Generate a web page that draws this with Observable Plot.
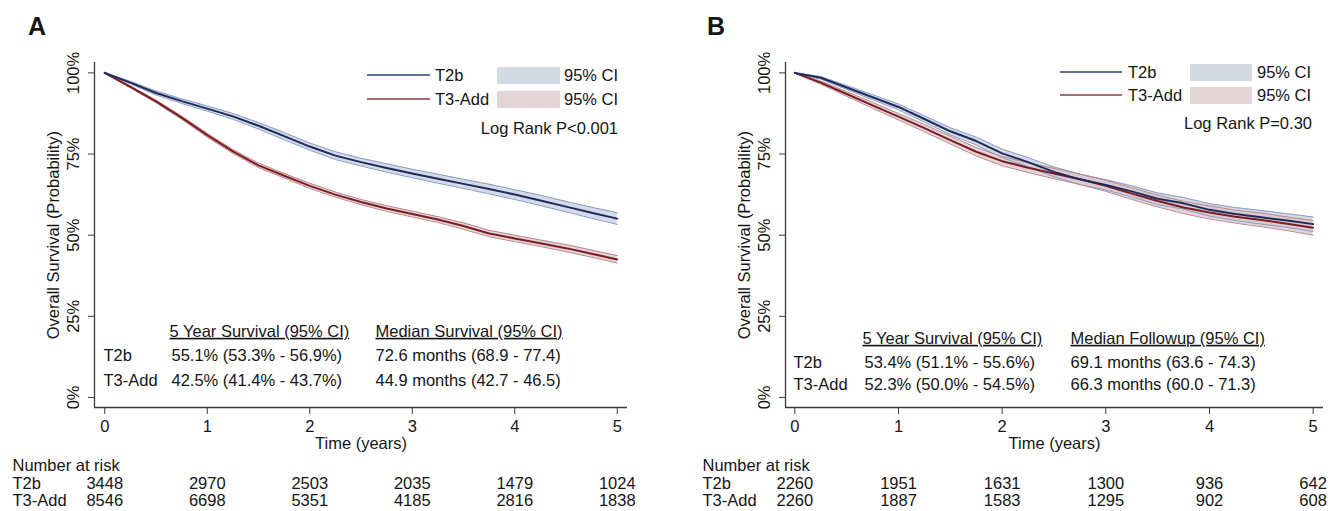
<!DOCTYPE html>
<html><head><meta charset="utf-8">
<script src="https://cdn.jsdelivr.net/npm/d3@7"></script>
<script src="https://cdn.jsdelivr.net/npm/@observablehq/plot@0.6"></script>
<style>
html,body{margin:0;padding:0;background:#fff;}
#fig{position:relative;width:1330px;height:511px;overflow:hidden;font-family:"Liberation Sans",Arial,sans-serif;color:#151515;}
.panel{position:absolute;top:0;}
.abs{position:absolute;white-space:nowrap;font-size:16.5px;line-height:20px;}
.sw{position:absolute;}
.letter{position:absolute;font-weight:bold;font-size:25px;line-height:25px;}
</style></head><body><div id="fig"></div>
<script>
// ---------- data ----------
const years = [0, 0.25, 0.5, 0.75, 1, 1.25, 1.5, 1.75, 2, 2.25, 2.5, 2.75, 3, 3.25, 3.5, 3.75, 4, 4.25, 4.5, 4.75, 5];
const groups = ["T2b", "T3-Add"];

// Panel A
const aT2bSurv = [1, .970, .938, .913, .890, .866, .837, .805, .773, .745, .725, .707, .690, .674, .658, .642, .625, .607, .588, .569, .551];
const aT2bLo   = [1, .966, .932, .906, .882, .857, .827, .794, .762, .733, .713, .694, .677, .660, .644, .627, .610, .591, .572, .552, .533];
const aT2bHi   = [1, .974, .944, .920, .898, .875, .847, .816, .784, .757, .737, .720, .703, .688, .672, .657, .640, .623, .604, .586, .569];
const aT3Surv  = [1, .957, .912, .862, .808, .758, .715, .683, .652, .625, .602, .582, .565, .548, .528, .505, .490, .475, .460, .443, .425];
const aT3Lo    = [1, .954, .908, .857, .802, .752, .708, .676, .644, .617, .594, .573, .556, .539, .518, .495, .480, .465, .449, .432, .414];
const aT3Hi    = [1, .960, .916, .867, .814, .764, .722, .690, .660, .633, .610, .591, .574, .557, .538, .515, .500, .485, .471, .454, .437];

// Panel B
const bT2bSurv = [1, .985, .955, .925, .895, .858, .82, .79, .752, .725, .695, .672, .655, .635, .612, .598, .578, .565, .555, .545, .534];
const bT2bLo   = [1, .981, .949, .917, .886, .848, .809, .778, .739, .711, .680, .656, .639, .618, .594, .580, .559, .545, .534, .524, .511];
const bT2bHi   = [1, .989, .961, .933, .904, .868, .831, .802, .765, .739, .710, .688, .671, .652, .630, .616, .597, .585, .576, .566, .556];
const bT3Surv  = [1, .97, .935, .90, .865, .83, .793, .757, .728, .708, .69, .672, .652, .628, .605, .585, .57, .557, .547, .535, .523];
const bT3Lo    = [1, .965, .928, .891, .855, .819, .781, .744, .714, .693, .674, .656, .635, .610, .587, .566, .550, .537, .526, .514, .500];
const bT3Hi    = [1, .975, .942, .909, .875, .841, .805, .770, .742, .723, .706, .688, .669, .646, .623, .604, .590, .577, .568, .556, .545];

// Number at risk
const riskTimes = [0, 1, 2, 3, 4, 5];
const aRiskT2b = [3448, 2970, 2503, 2035, 1479, 1024];
const aRiskT3  = [8546, 6698, 5351, 4185, 2816, 1838];
const bRiskT2b = [2260, 1951, 1631, 1300, 936, 642];
const bRiskT3  = [2260, 1887, 1583, 1295, 902, 608];

// Ticks
const xTicks = [0, 1, 2, 3, 4, 5];
const yTicks = [0, 0.25, 0.5, 0.75, 1];

// Summary tables
const aHeaders = ["5 Year Survival (95% CI)", "Median Survival (95% CI)"];
const aFiveYear = ["55.1% (53.3% - 56.9%)", "42.5% (41.4% - 43.7%)"];
const aMedian   = ["72.6 months (68.9 - 77.4)", "44.9 months (42.7 - 46.5)"];
const bHeaders = ["5 Year Survival (95% CI)", "Median Followup (95% CI)"];
const bFiveYear = ["53.4% (51.1% - 55.6%)", "52.3% (50.0% - 54.5%)"];
const bMedian   = ["69.1 months (63.6 - 74.3)", "66.3 months (60.0 - 71.3)"];
const aLogRank = "Log Rank P<0.001";
const bLogRank = "Log Rank P=0.30";

// ---------- styles ----------
const FONT = "Liberation Sans, Arial, Helvetica, sans-serif";
const FS = 16.5;
const INK = "#151515";
const AXIS = "#3a3a3a";
const BLUE = "#1c2b5e", RED = "#7c1d24";
const BLUE_EDGE = "#8a9ec2", RED_EDGE = "#bb8a8f";
const BLUE_CI = "#c5cfdd", RED_CI = "#dbc6c9";
const BLUE_LEG = "#5f7097", RED_LEG = "#a86b6e";
const BLUE_BOX = "#d4dae3", RED_BOX = "#e4d6d8";
const yDomain = [-0.031, 1.032];

const fig = document.getElementById("fig");

function series(s, lo, hi) {
  return years.map((t, i) => ({t, s: s[i], lo: lo[i], hi: hi[i]}));
}

function panel(cfg) {
  const d1 = series(cfg.s1, cfg.lo1, cfg.hi1);
  const d2 = series(cfg.s2, cfg.lo2, cfg.hi2);
  const T = (data, o) => Plot.text(data, {fontSize: FS, fill: INK, lineAnchor: "middle", ...o});
  const plot = Plot.plot({
    width: cfg.width, height: 511,
    marginTop: 62, marginBottom: 104, marginLeft: cfg.ml, marginRight: cfg.mr,
    x: {domain: cfg.xDomain, label: null},
    y: {domain: yDomain, label: null},
    style: {fontFamily: FONT, background: "transparent", overflow: "visible", color: INK},
    marks: [
      Plot.areaY(d1, {x: "t", y1: "lo", y2: "hi", fill: BLUE_CI, fillOpacity: 0.75}),
      Plot.areaY(d2, {x: "t", y1: "lo", y2: "hi", fill: RED_CI, fillOpacity: 0.75}),
      Plot.lineY(d1, {x: "t", y: "lo", stroke: BLUE_EDGE, strokeWidth: 1}),
      Plot.lineY(d1, {x: "t", y: "hi", stroke: BLUE_EDGE, strokeWidth: 1}),
      Plot.lineY(d2, {x: "t", y: "lo", stroke: RED_EDGE, strokeWidth: 1}),
      Plot.lineY(d2, {x: "t", y: "hi", stroke: RED_EDGE, strokeWidth: 1}),
      Plot.lineY(d2, {x: "t", y: "s", stroke: RED, strokeWidth: 2}),
      Plot.lineY(d1, {x: "t", y: "s", stroke: BLUE, strokeWidth: 2}),
      // spines
      Plot.ruleX([cfg.xDomain[0]], {stroke: AXIS, strokeWidth: 1.3}),
      Plot.ruleY([yDomain[0]], {stroke: AXIS, strokeWidth: 1.3}),
      // ticks
      Plot.axisY({ticks: yTicks, tickSize: 6, tickFormat: () => "", stroke: AXIS, label: null}),
      Plot.axisX({ticks: xTicks, tickSize: 7, tickFormat: () => "", stroke: AXIS, label: null}),
      // tick labels
      T(yTicks, {y: d => d, text: d => `${d * 100}%`, frameAnchor: "left", dx: -21, rotate: -90, textAnchor: "middle"}),
      T(xTicks, {x: d => d, text: d => String(d), frameAnchor: "bottom", dy: 19}),
      T(["Overall Survival (Probability)"], {y: () => 0.5, text: d => d, frameAnchor: "left", dx: -41, rotate: -90, textAnchor: "middle"}),
      T(["Time (years)"], {text: d => d, frameAnchor: "bottom", dy: 36}),
      // summary table
      T([cfg.headers[0]], {text: d => d, frameAnchor: "bottom-left", dx: cfg.c1, dy: cfg.ty[0], textAnchor: "start"}),
      T([cfg.headers[1]], {text: d => d, frameAnchor: "bottom-left", dx: cfg.c2, dy: cfg.ty[0], textAnchor: "start"}),
      T([groups[0]], {text: d => d, frameAnchor: "bottom-left", dx: cfg.c0, dy: cfg.ty[1], textAnchor: "start"}),
      T([groups[1]], {text: d => d, frameAnchor: "bottom-left", dx: cfg.c0, dy: cfg.ty[2], textAnchor: "start"}),
      T([cfg.five[0]], {text: d => d, frameAnchor: "bottom-left", dx: cfg.c1 + 2, dy: cfg.ty[1], textAnchor: "start"}),
      T([cfg.five[1]], {text: d => d, frameAnchor: "bottom-left", dx: cfg.c1 + 2, dy: cfg.ty[2], textAnchor: "start"}),
      T([cfg.med[0]], {text: d => d, frameAnchor: "bottom-left", dx: cfg.c2, dy: cfg.ty[1], textAnchor: "start"}),
      T([cfg.med[1]], {text: d => d, frameAnchor: "bottom-left", dx: cfg.c2, dy: cfg.ty[2], textAnchor: "start"}),
      // number at risk
      T(["Number at risk"], {text: d => d, frameAnchor: "bottom-left", dx: 12 - cfg.ml, dy: 58, textAnchor: "start"}),
      T([groups[0]], {text: d => d, frameAnchor: "bottom-left", dx: 12 - cfg.ml, dy: 76, textAnchor: "start"}),
      T([groups[1]], {text: d => d, frameAnchor: "bottom-left", dx: 12 - cfg.ml, dy: 93, textAnchor: "start"}),
      T(cfg.risk1, {x: (d, i) => riskTimes[i], text: d => String(d), frameAnchor: "bottom", dy: 76}),
      T(cfg.risk2, {x: (d, i) => riskTimes[i], text: d => String(d), frameAnchor: "bottom", dy: 93})
    ]
  });
  plot.classList.add("panel");
  plot.style.left = cfg.left + "px";
  // underline table headers
  plot.querySelectorAll("text").forEach(el => {
    if (cfg.headers.includes(el.textContent)) {
      el.style.textDecoration = "underline";
      el.style.textDecorationThickness = "1.5px";
    }
  });
  fig.appendChild(plot);

  // panel letter
  const L = document.createElement("div");
  L.className = "letter"; L.textContent = cfg.letter;
  L.style.left = cfg.letterX + "px"; L.style.top = "14px";
  fig.appendChild(L);

  // legend (HTML, overlaid)
  const lg = cfg.legend;
  const rows = [{y: lg.y1, label: groups[0], line: BLUE_LEG, box: BLUE_BOX}, {y: lg.y2, label: groups[1], line: RED_LEG, box: RED_BOX}];
  rows.forEach(r => {
    const ln = document.createElement("div");
    ln.className = "sw";
    Object.assign(ln.style, {left: lg.lineX0 + "px", width: (lg.lineX1 - lg.lineX0) + "px", top: (r.y - 0.75) + "px", height: "1.5px", background: r.line});
    fig.appendChild(ln);
    const lb = document.createElement("div");
    lb.className = "abs"; lb.textContent = r.label;
    Object.assign(lb.style, {left: lg.labelX + "px", top: (r.y - 10) + "px"});
    fig.appendChild(lb);
    const bx = document.createElement("div");
    bx.className = "sw";
    Object.assign(bx.style, {left: lg.boxX0 + "px", width: (lg.boxX1 - lg.boxX0) + "px", top: (r.y - 8.5) + "px", height: "17px", background: r.box});
    fig.appendChild(bx);
    const ci = document.createElement("div");
    ci.className = "abs"; ci.textContent = "95% CI";
    Object.assign(ci.style, {left: lg.ciX + "px", top: (r.y - 10) + "px"});
    fig.appendChild(ci);
  });
  const lr = document.createElement("div");
  lr.className = "abs"; lr.textContent = cfg.logRank;
  Object.assign(lr.style, {right: (1330 - lg.right) + "px", top: (lg.y3 - 10) + "px"});
  fig.appendChild(lr);
}

panel({
  letter: "A", letterX: 28, left: 0, width: 690, ml: 94, mr: 63, xDomain: [-0.1, 5.1],
  s1: aT2bSurv, lo1: aT2bLo, hi1: aT2bHi, s2: aT3Surv, lo2: aT3Lo, hi2: aT3Hi,
  risk1: aRiskT2b, risk2: aRiskT3,
  headers: aHeaders, five: aFiveYear, med: aMedian, logRank: aLogRank,
  c0: 9, c1: 75, c2: 281, ty: [-76, -52, -27],
  legend: {y1: 75, y2: 99, y3: 128, lineX0: 367, lineX1: 430, labelX: 435, boxX0: 497, boxX1: 560, ciX: 564, right: 618}
});
panel({
  letter: "B", letterX: 707, left: 690, width: 640, ml: 95, mr: 7, xDomain: [-0.09, 5.1],
  s1: bT2bSurv, lo1: bT2bLo, hi1: bT2bHi, s2: bT3Surv, lo2: bT3Lo, hi2: bT3Hi,
  risk1: bRiskT2b, risk2: bRiskT3,
  headers: bHeaders, five: bFiveYear, med: bMedian, logRank: bLogRank,
  c0: 8, c1: 77, c2: 285, ty: [-69, -45, -23],
  legend: {y1: 72, y2: 95, y3: 123, lineX0: 1060, lineX1: 1122, labelX: 1128, boxX0: 1190, boxX1: 1252, ciX: 1257, right: 1312}
});
</script></body></html>
